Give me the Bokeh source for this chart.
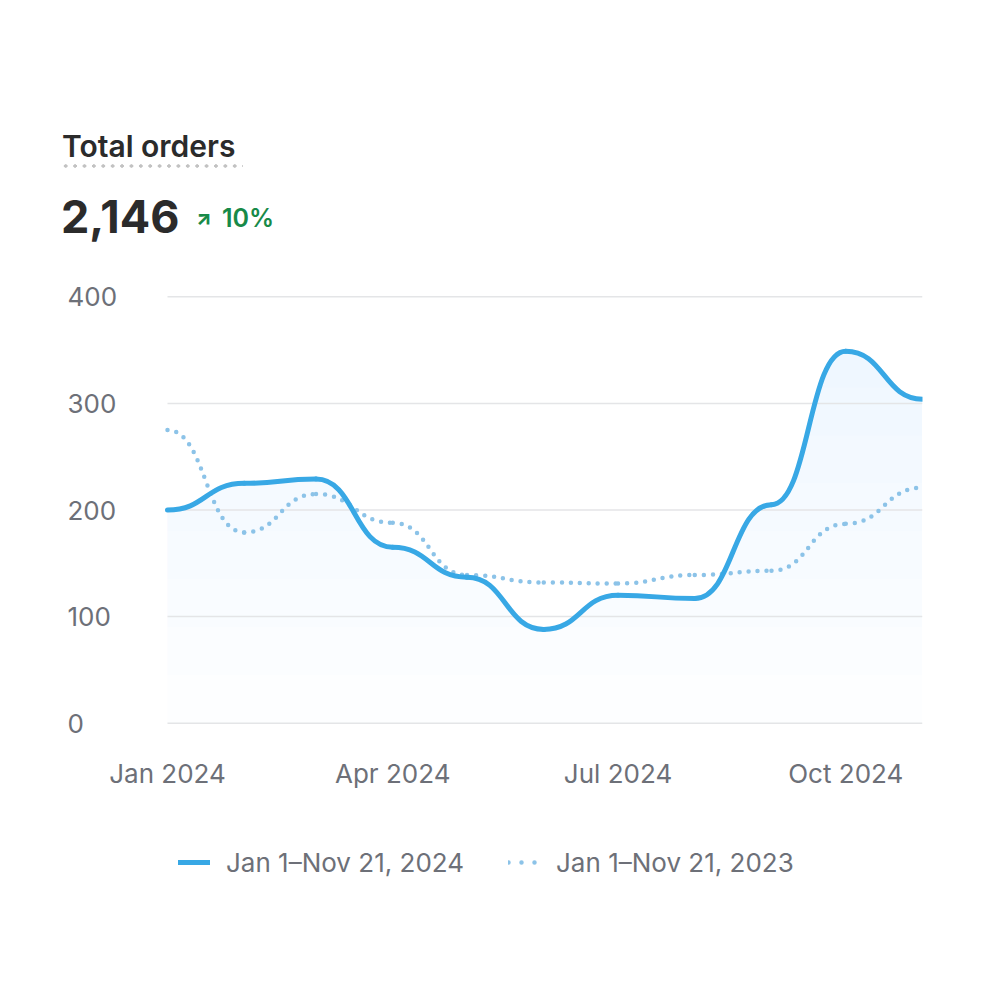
import numpy as np
import pandas as pd
from bokeh.plotting import figure
from bokeh.layouts import column
from bokeh.models import (ColumnDataSource, Range1d, FixedTicker, DatetimeTickFormatter,
                          Legend, LegendItem, Div)
from bokeh.core.properties import value
from bokeh.embed import file_html
from bokeh.resources import INLINE

# ---------------- data ----------------
months = ["2024-01-01", "2024-02-01", "2024-03-01", "2024-04-01", "2024-05-01", "2024-06-01",
          "2024-07-01", "2024-08-01", "2024-09-01", "2024-10-01", "2024-11-01"]
orders_2024 = [200, 225, 229, 165, 137, 88, 120, 117, 205, 349, 304]
orders_2023 = [275, 179, 215, 188, 139, 132, 131, 139, 143, 187, 221]
y_ticks = [0, 100, 200, 300, 400]
y_tick_labels = ["0", "100", "200", "300", "400"]
x_ticks = ["2024-01-01", "2024-04-01", "2024-07-01", "2024-10-01"]
title_text = "Total orders"
total_text = "2,146"
change_text = "10%"
legend_labels = ["Jan 1\u2013Nov 21, 2024", "Jan 1\u2013Nov 21, 2023"]

FONT = "Inter"
BLUE = "#38a8e5"
BLUE_LIGHT = "#8cc3e8"
GRID = "#e4e5e7"
LABEL = "#6d7078"
DARK = "#2b2b2b"
GREEN = "#178a48"
TICK_FS = "26px"


def to_ms(d):
    return (pd.to_datetime(pd.Series(d)).astype("int64") // 10**6).to_numpy().astype(float)


xm = to_ms(months)
xt = to_ms(x_ticks)


def bezier_source(x, y):
    x = np.asarray(x, float)
    y = np.asarray(y, float)
    mid = (x[:-1] + x[1:]) / 2
    return ColumnDataSource(dict(x0=x[:-1], y0=y[:-1], x1=x[1:], y1=y[1:],
                                 cx0=mid, cy0=y[:-1], cx1=mid, cy1=y[1:]))


def bump_curve(x, y, n=40):
    x = np.asarray(x, float)
    y = np.asarray(y, float)
    xs, ys = [], []
    t = np.linspace(0, 1, n)
    for i in range(len(x) - 1):
        x0, x1, y0, y1 = x[i], x[i + 1], y[i], y[i + 1]
        m = (x0 + x1) / 2
        bx = (1 - t) ** 3 * x0 + 3 * (1 - t) ** 2 * t * m + 3 * (1 - t) * t ** 2 * m + t ** 3 * x1
        by = (1 - t) ** 3 * y0 + 3 * (1 - t) ** 2 * t * y0 + 3 * (1 - t) * t ** 2 * y1 + t ** 3 * y1
        xs.append(bx)
        ys.append(by)
    return np.concatenate(xs), np.concatenate(ys)


# ---------------- header (HTML) ----------------
H_HEAD = 270
header_html = f"""
<div style="position:relative;width:1000px;height:{H_HEAD}px;font-family:Inter,sans-serif;">
  <div style="position:absolute;left:62px;top:131px;font-size:30px;line-height:30px;font-weight:600;color:{DARK};white-space:nowrap;">{title_text}</div>
  <div style="position:absolute;left:61px;top:164px;width:182px;height:4px;
       background-image:radial-gradient(circle, #c2c2c2 1.5px, rgba(255,255,255,0) 1.9px);
       background-size:9.4px 4px;background-repeat:repeat-x;"></div>
  <div style="position:absolute;left:61px;top:194px;font-size:45px;line-height:45px;font-weight:700;color:{DARK};white-space:nowrap;">{total_text}</div>
  <div style="position:absolute;left:196px;top:208px;font-size:20px;line-height:20px;font-weight:800;color:{GREEN};">&#8599;</div>
  <div style="position:absolute;left:222px;top:206px;font-size:25px;line-height:25px;font-weight:600;color:{GREEN};white-space:nowrap;">{change_text}</div>
</div>
"""
head = Div(text=header_html, width=1000, height=H_HEAD, margin=(0, 0, 0, 0))

# ---------------- main chart ----------------
FRAME_L = 60
DATA_L = 167
DATA_R = 922
span = xm[-1] - xm[0]
x_start = xm[0] - span * (DATA_L - FRAME_L) / (DATA_R - DATA_L)

H_MAIN = 560
p = figure(width=1000, height=H_MAIN, output_backend="svg", toolbar_location=None,
           x_axis_type="datetime",
           x_range=Range1d(x_start, xm[-1]), y_range=Range1d(-20, 420),
           min_border_left=FRAME_L, min_border_right=1000 - DATA_R, min_border_top=5,
           min_border_bottom=H_MAIN - 5 - 469, outline_line_color=None)
p.yaxis.visible = False
p.grid.visible = False

xa = p.xaxis[0]
xa.ticker = FixedTicker(ticks=list(xt))
xa.formatter = DatetimeTickFormatter(months="%b %Y", days="%b %Y", years="%b %Y")
xa.axis_line_color = None
xa.major_tick_line_color = None
xa.minor_tick_line_color = None
xa.major_tick_out = 0
xa.major_tick_in = 0
xa.major_label_text_font = FONT
xa.major_label_text_font_size = TICK_FS
xa.major_label_text_color = LABEL
xa.major_label_standoff = 13

# faint gradient-like fill under the 2024 curve
fx, fy = bump_curve(xm, orders_2024)
for lvl in range(0, 360, 45):
    p.varea(x=fx, y1=lvl, y2=np.maximum(fy, lvl), fill_color="#0040c0", fill_alpha=0.008)

# horizontal grid lines over the data span
p.segment(x0=[xm[0]] * len(y_ticks), x1=[xm[-1]] * len(y_ticks), y0=y_ticks, y1=y_ticks,
          line_color=GRID, line_width=1.5)

# y tick labels (left aligned, at the left of the frame)
p.text(x=[x_start] * len(y_ticks), y=y_ticks, text=y_tick_labels, x_offset=7,
       text_align="left", text_baseline="middle", text_font=value(FONT),
       text_font_size=TICK_FS, text_color=LABEL)

# 2023 dotted line
p.bezier(x0="x0", y0="y0", x1="x1", y1="y1", cx0="cx0", cy0="cy0", cx1="cx1", cy1="cy1",
         source=bezier_source(xm, orders_2023), line_color=BLUE_LIGHT, line_width=4.5,
         line_dash="0 9", line_cap="round")
# 2024 solid line
p.bezier(x0="x0", y0="y0", x1="x1", y1="y1", cx0="cx0", cy0="cy0", cx1="cx1", cy1="cy1",
         source=bezier_source(xm, orders_2024), line_color=BLUE, line_width=5,
         line_cap="round")

# ---------------- legend strip ----------------
H_LEG = 1000 - H_HEAD - H_MAIN
leg = figure(width=1000, height=H_LEG, output_backend="svg", toolbar_location=None,
             x_range=Range1d(0, 1), y_range=Range1d(0, 1),
             min_border_left=FRAME_L, min_border_right=1000 - DATA_R,
             min_border_top=0, min_border_bottom=0, outline_line_color=None)
leg.axis.visible = False
leg.grid.visible = False
r1 = leg.line(x=[-5, -4], y=[-5, -4], line_color=BLUE, line_width=5, line_cap="round")
r2 = leg.line(x=[-5, -4], y=[-5, -4], line_color=BLUE_LIGHT, line_width=4.5,
              line_dash="0 13", line_cap="round")
legend = Legend(items=[LegendItem(label=legend_labels[0], renderers=[r1]),
                       LegendItem(label=legend_labels[1], renderers=[r2])],
                orientation="horizontal", location=(DATA_L + 11 - FRAME_L, H_LEG - 32 - 16),
                padding=0, margin=0, spacing=44, label_standoff=16,
                glyph_width=32, glyph_height=32, label_height=32,
                label_text_font=FONT, label_text_font_size=TICK_FS, label_text_color=LABEL,
                background_fill_alpha=0, border_line_color=None)
leg.add_layout(legend, "center")

layout = column(head, p, leg, spacing=0)
open("out.html", "w").write(file_html(layout, INLINE))
